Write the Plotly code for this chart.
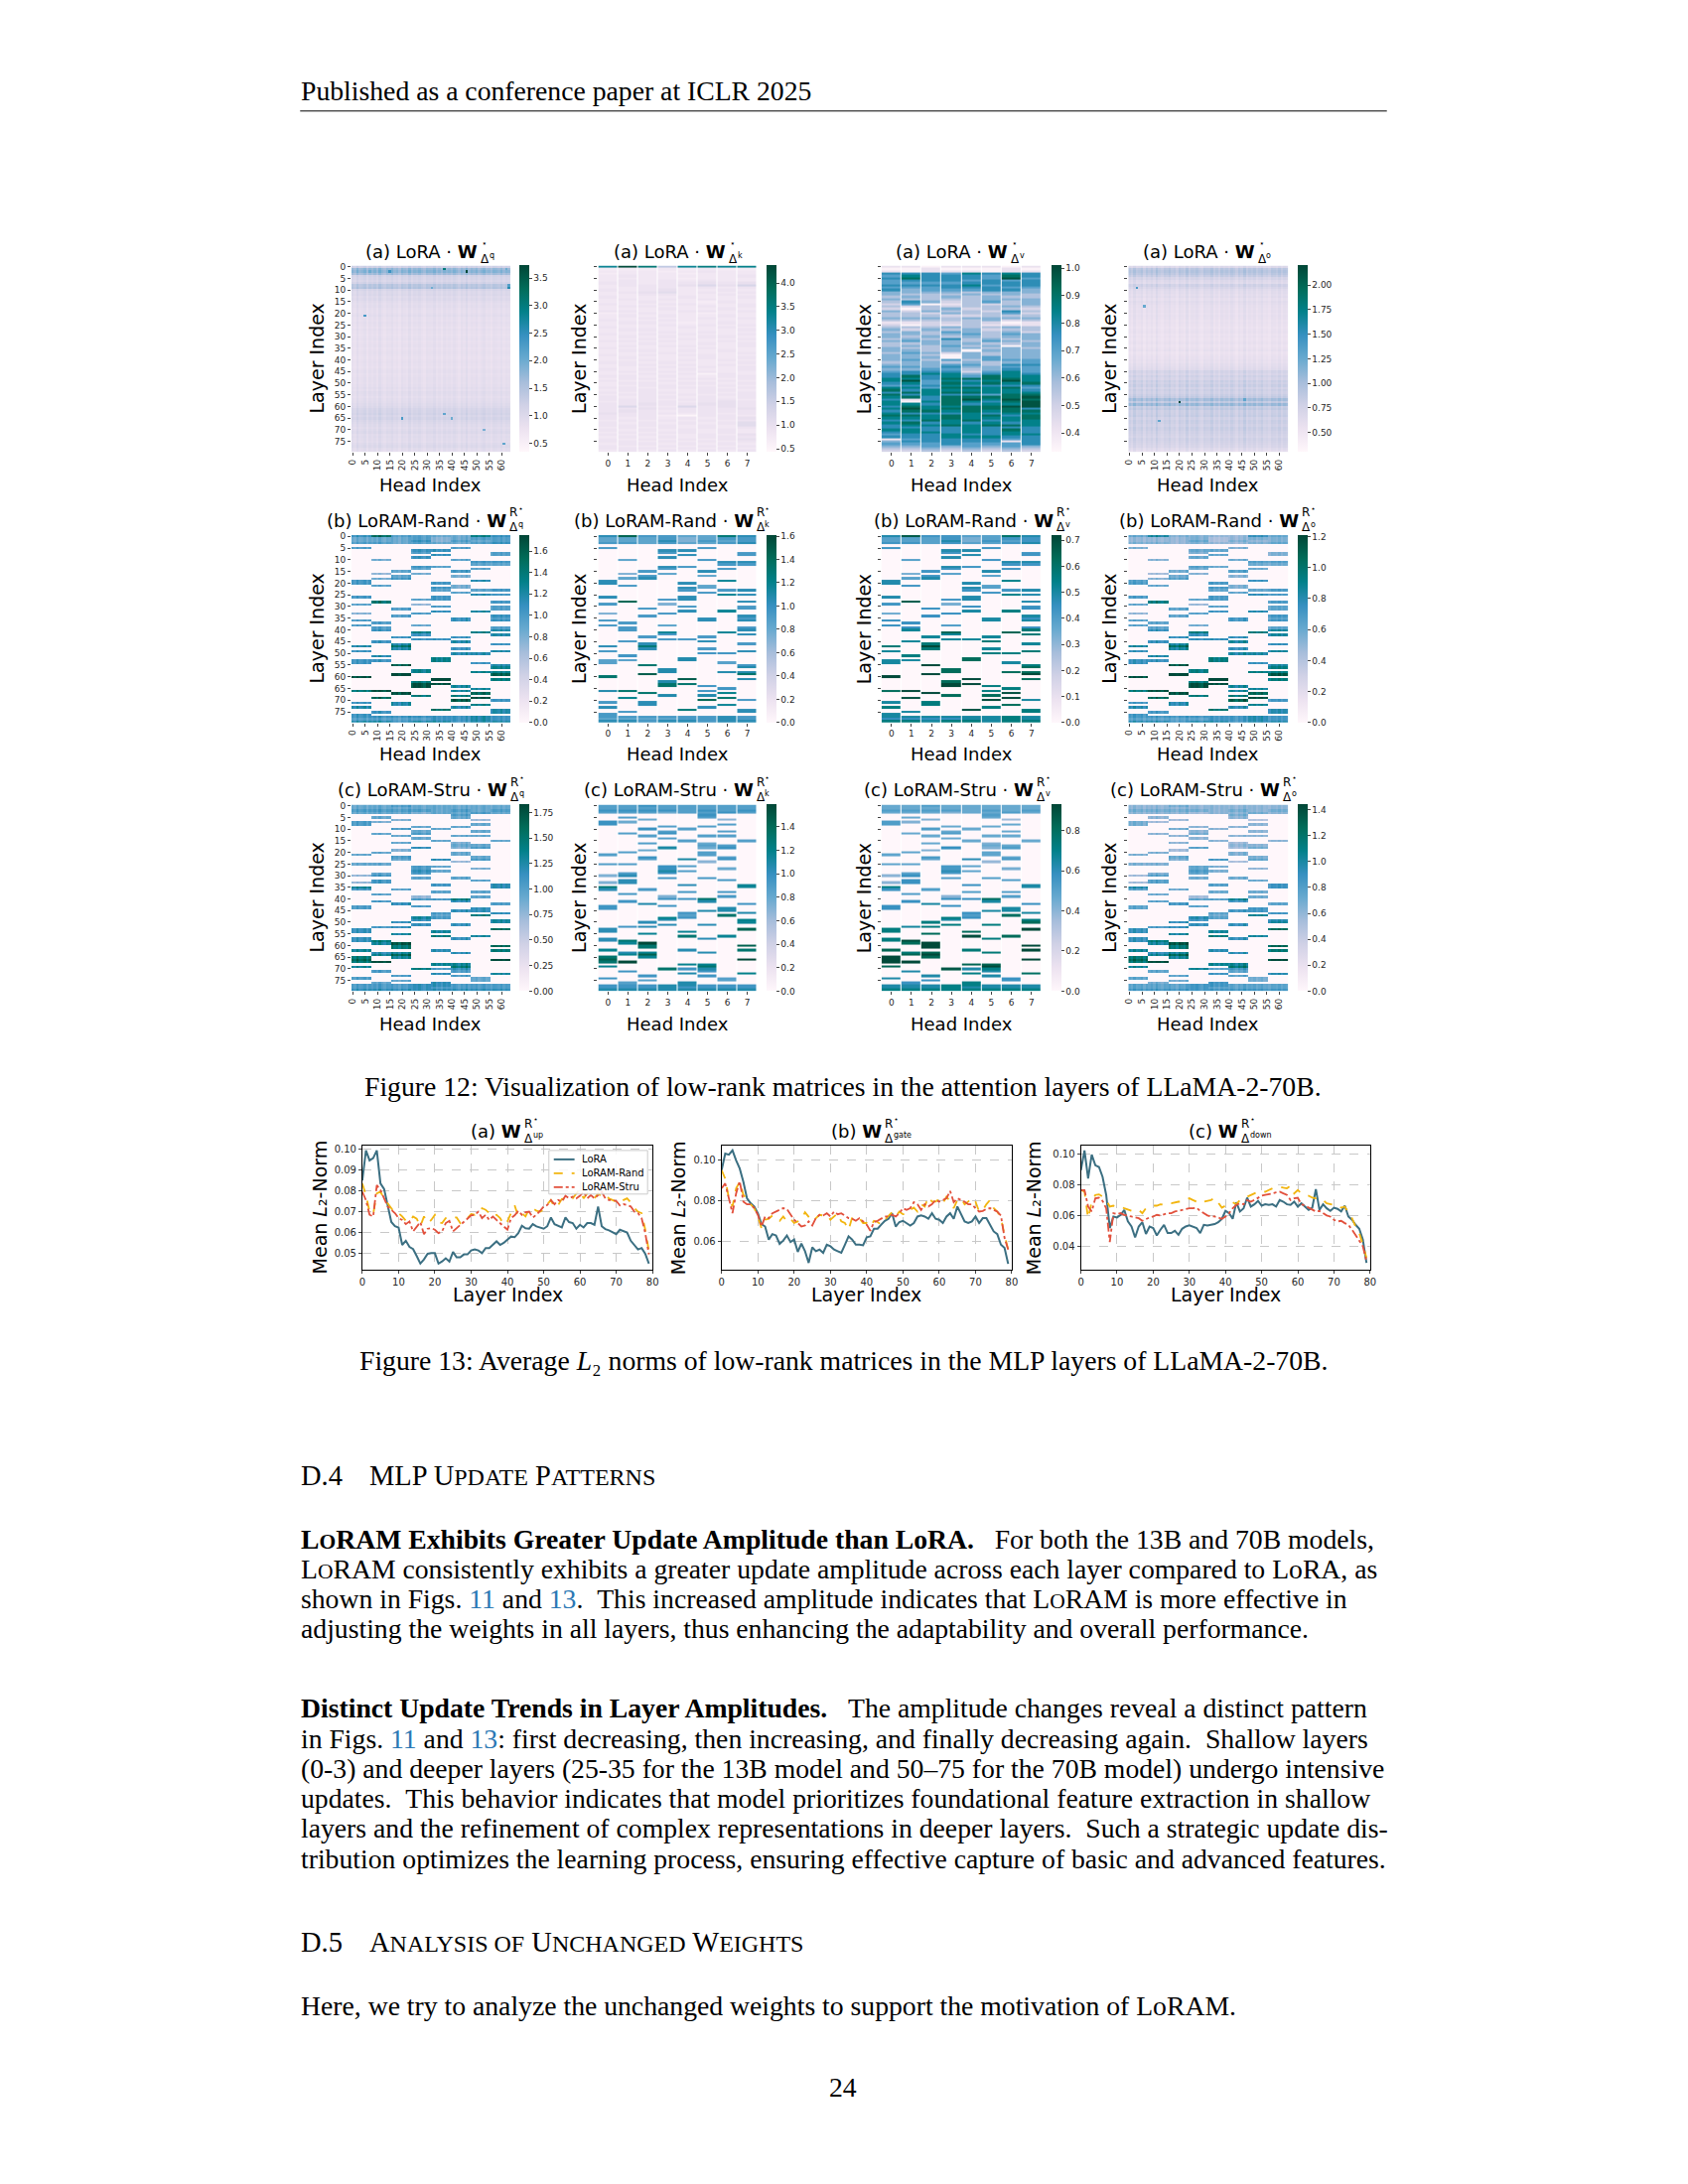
import plotly.graph_objects as go

# page geometry: the browser keeps its default 8px body margin
OFF = 8
W, H = 1700 - 2 * OFF, 2200 - 2 * OFF
SANS = "DejaVu Sans"
SERIF = "Liberation Serif"
LINK = "#2b78b4"


def fx(px):
    return (px - OFF) / W


def fy(py):
    return 1 - (py - OFF) / H


LAYERS = list(range(80))

# ---------------- Figure 12 data ----------------
# per-head multipliers for the 64-head (q / o) maps
HEAD_JIT = [1.02, 0.95, 1.08, 0.97, 1.0, 1.06, 0.93, 1.04, 0.98, 1.05, 0.96, 1.1, 0.99, 0.94, 1.03, 1.0,
            1.07, 0.97, 1.01, 0.92, 1.05, 1.0, 0.96, 1.09, 0.95, 1.03, 1.0, 1.06, 0.98, 0.93, 1.04, 1.01,
            1.0, 1.08, 0.96, 1.02, 0.94, 1.05, 0.99, 1.03, 0.97, 1.06, 1.0, 0.93, 1.04, 0.98, 1.1, 0.96,
            1.03, 0.99, 1.05, 0.95, 1.01, 1.07, 0.97, 1.0, 0.94, 1.04, 1.02, 0.98, 1.06, 0.96, 1.03, 1.0]

# (a) LoRA, q projection: row level and a few bright cells
Q_ROW = [1.2, 1.7, 1.8, 1.6, 1.15, 1.1, 1.05, 1.15, 1.4, 1.45,
         1.08, 1.0, 1.02, 0.95, 0.98, 0.92, 0.88, 0.9, 0.86, 0.84,
         0.86, 0.9, 0.84, 0.82, 0.86, 0.84, 0.8, 0.85, 0.82, 0.8,
         0.82, 0.84, 0.8, 0.82, 0.84, 0.8, 0.82, 0.84, 0.82, 0.8,
         0.82, 0.84, 0.82, 0.8, 0.84, 0.86, 0.82, 0.84, 0.86, 0.85,
         0.84, 0.86, 0.9, 0.86, 0.92, 0.9, 0.86, 0.9, 0.92, 0.96,
         1.0, 1.08, 1.1, 1.14, 1.06, 1.12, 1.04, 1.0, 0.96, 0.92,
         0.96, 1.0, 0.92, 0.94, 0.92, 0.9, 0.96, 1.0, 0.92, 0.88]
Q_SPOTS = [(2, 46, 3.7), (1, 37, 3.0), (2, 15, 2.4), (9, 63, 2.6), (21, 5, 2.3), (65, 20, 2.3),
           (63, 37, 2.1), (65, 40, 2.0), (76, 61, 2.1), (70, 53, 1.9), (1, 62, 2.0), (9, 32, 2.0),
           (8, 63, 2.2), (2, 7, 2.0)]

# (a) LoRA, o projection
O_ROW = [0.68, 0.88, 0.92, 0.88, 0.82, 0.72, 0.66, 0.64, 0.76, 0.7,
         0.64, 0.62, 0.6, 0.62, 0.58, 0.62, 0.6, 0.58, 0.57, 0.58,
         0.56, 0.58, 0.57, 0.55, 0.56, 0.55, 0.53, 0.55, 0.56, 0.53,
         0.55, 0.53, 0.55, 0.56, 0.53, 0.55, 0.57, 0.53, 0.55, 0.56,
         0.58, 0.57, 0.6, 0.62, 0.64, 0.74, 0.7, 0.76, 0.72, 0.79,
         0.76, 0.8, 0.74, 0.79, 0.76, 0.8, 0.84, 1.0, 0.85, 1.04,
         0.82, 0.85, 0.79, 0.8, 0.82, 0.76, 0.8, 0.79, 0.76, 0.8,
         0.79, 0.76, 0.74, 0.72, 0.76, 0.74, 0.72, 0.7, 0.64, 0.6]
O_SPOTS = [(58, 20, 2.2), (9, 3, 1.4), (17, 6, 1.25), (66, 12, 1.3), (57, 46, 1.3)]

# (a) LoRA, k projection: layer 0 then layers 1..79 as digits (0.5 + 0.1*d)
K_LORA_TOP = [3.3, 4.3, 3.6, 1.6, 3.3, 3.5, 3.3, 3.4]
K_LORA_ROWS = [
    "22232322", "33323433", "23332333", "34333334", "33332333", "34343433", "44344545", "34445758",
    "33443434", "43453343", "34563434", "33443343", "43334334", "34343433", "33433243", "43344334",
    "34433434", "33343343", "44334434", "23433233", "34343343", "33433434", "43343333", "34432343",
    "33343434", "43334343", "34433334", "33343433", "43434334", "34343443", "33434334", "44343343",
    "33433434", "34344334", "43333433", "34434343", "33343334", "43434433", "34333434", "33434343",
    "44343334", "34434343", "33343434", "43434334", "34343433", "33434143", "44343344", "34434434",
    "43343343", "34434434", "33443343", "44344434", "34433443", "43443434", "34434344", "43443434",
    "44434443", "34443454", "44544554", "47437454", "44544445", "45434444", "54443434", "44420443",
    "43434345", "34343434", "43434346", "44443436", "34343434", "43434343", "34344343", "43433435",
    "34343444", "43434345", "44343434", "34434343", "43343434", "44434343", "34343434"]

# (a) LoRA, v projection: layers 0..79 as digits (0.35 + 0.07*d)
V_LORA_ROWS = [
    "11011101", "00100010", "10111011", "66657676", "57666586", "68666595", "56665656", "55556666",
    "66667566", "55566655", "64555664", "44443444", "43334343", "34343433", "43333444", "36423534",
    "25013234", "32323343", "20342332", "42433263", "33243352", "33322333", "44434444", "33333423",
    "11223201", "20213111", "33343343", "42434233", "34354342", "44345354", "43434344", "34363434",
    "45443543", "33444334", "34353404", "43344343", "44340444", "35424344", "44304344", "44404544",
    "45353555", "34434345", "44455366", "55464455", "44553465", "56662575", "66774676", "68675877",
    "77688887", "79576797", "67587878", "56676666", "77588785", "86777776", "68788777", "86766588",
    "78688889", "61689798", "70787689", "77686779", "68778899", "79788886", "68878788", "76667677",
    "88787868", "77787778", "66878677", "78676767", "67787887", "66667666", "77667686", "67767676",
    "56676677", "66677766", "15666656", "46666616", "55565556", "44545454", "33434343", "22323232"]

# kept KV groups per layer (group -> {layer: strength 1..9}); all other middle cells are pruned
RAND_KEPT = [
    {5: 5, 19: 6, 20: 6, 26: 6, 29: 5, 33: 3, 36: 5, 38: 5, 47: 6, 49: 5, 53: 4, 54: 4, 60: 8, 66: 6, 71: 5, 73: 6, 76: 5},
    {10: 4, 16: 3, 18: 4, 21: 5, 28: 9, 37: 5, 39: 5, 40: 5, 45: 5, 51: 5, 53: 4, 66: 8, 69: 7, 75: 5},
    {15: 5, 17: 5, 18: 6, 31: 5, 34: 5, 43: 5, 46: 6, 47: 8, 48: 6, 55: 8, 59: 9, 67: 8, 71: 6, 72: 6},
    {6: 6, 7: 5, 9: 6, 13: 6, 14: 5, 16: 4, 27: 5, 29: 3, 33: 5, 38: 4, 41: 7, 42: 5, 44: 5, 57: 6, 58: 6, 62: 6, 63: 8, 64: 8, 68: 6},
    {6: 6, 8: 6, 13: 5, 20: 6, 22: 6, 23: 5, 26: 6, 27: 6, 30: 5, 32: 6, 44: 5, 52: 6, 53: 6, 61: 9, 63: 8, 74: 8},
    {5: 5, 10: 5, 15: 6, 17: 4, 21: 4, 22: 4, 24: 5, 35: 6, 36: 6, 43: 5, 45: 6, 48: 5, 50: 5, 64: 5, 66: 5, 68: 6, 70: 9, 73: 6},
    {11: 6, 12: 5, 14: 5, 19: 7, 23: 5, 25: 7, 32: 7, 41: 7, 50: 5, 54: 4, 58: 6, 65: 5, 67: 7, 69: 8, 72: 7},
    {7: 5, 8: 5, 11: 6, 12: 5, 23: 6, 25: 6, 28: 6, 30: 5, 31: 5, 34: 6, 35: 5, 36: 6, 39: 5, 40: 6, 42: 6, 46: 5,
     49: 6, 55: 5, 56: 6, 58: 6, 59: 8, 61: 6, 70: 5, 74: 6, 75: 6},
]
RAND_EDGE = {0: "69554486", 1: "44453455", 2: "44463545", 3: "55454456",
             77: "55555565", 78: "44445565", 79: "66566566"}

STRU_KEPT = [
    {7: 6, 8: 6, 21: 5, 25: 5, 30: 3, 33: 3, 35: 8, 36: 6, 43: 5, 44: 5, 53: 5, 54: 5, 57: 5, 58: 5, 62: 6, 65: 7, 66: 8, 67: 7, 69: 6, 74: 5},
    {5: 5, 7: 4, 12: 5, 20: 5, 25: 5, 29: 5, 30: 6, 32: 6, 33: 6, 38: 5, 41: 5, 52: 4, 58: 7, 59: 6, 63: 5, 64: 6, 67: 9, 71: 5, 76: 4},
    {6: 4, 10: 6, 13: 5, 16: 5, 19: 4, 22: 6, 23: 5, 36: 5, 42: 6, 50: 5, 52: 5, 55: 6, 59: 9, 60: 7, 61: 7, 63: 6, 64: 8, 65: 6, 73: 5, 75: 4},
    {9: 5, 11: 5, 12: 6, 14: 5, 18: 7, 26: 6, 27: 6, 28: 7, 29: 6, 31: 5, 39: 3, 40: 5, 43: 5, 48: 7, 49: 6, 51: 5, 70: 8},
    {10: 5, 15: 5, 23: 7, 26: 5, 28: 5, 34: 6, 37: 5, 40: 5, 46: 5, 47: 4, 48: 5, 54: 6, 56: 7, 62: 5, 68: 6, 70: 5, 72: 6, 76: 6},
    {4: 6, 5: 5, 9: 5, 13: 5, 16: 4, 17: 5, 18: 4, 20: 5, 21: 5, 24: 3, 31: 5, 40: 8, 41: 6, 45: 6, 51: 5, 57: 5, 63: 5,
     68: 6, 69: 7, 70: 6, 71: 5, 73: 5},
    {6: 3, 8: 5, 11: 5, 13: 5, 17: 5, 18: 6, 22: 5, 23: 6, 27: 4, 32: 5, 37: 5, 39: 5, 44: 6, 45: 6, 47: 8, 56: 6, 74: 4, 75: 4},
    {15: 5, 34: 7, 35: 7, 42: 5, 46: 6, 49: 7, 50: 6, 53: 8, 60: 8, 62: 7, 66: 9, 72: 7},
]
STRU_EDGE = {0: "55655555", 1: "55555555", 2: "66665656", 3: "55545565",
             77: "55566555", 78: "55565555", 79: "66666666"}

LEVEL_SCALE = [0, 0.55, 0.65, 0.78, 0.9, 1.0, 1.12, 1.25, 1.38, 1.55]

# colour level (share of colour range) of a strength-5 cell, per block of 10 layers
BAND = {
    (1, 0): [0.55, 0.52, 0.52, 0.55, 0.6, 0.66, 0.7, 0.6],
    (1, 1): [0.58, 0.58, 0.58, 0.58, 0.58, 0.6, 0.6, 0.58],
    (1, 2): [0.6, 0.6, 0.6, 0.62, 0.72, 0.78, 0.78, 0.7],
    (1, 3): [0.45, 0.48, 0.5, 0.52, 0.62, 0.68, 0.7, 0.58],
    (2, 0): [0.5, 0.5, 0.5, 0.52, 0.56, 0.62, 0.64, 0.56],
    (2, 1): [0.55, 0.55, 0.55, 0.58, 0.6, 0.65, 0.66, 0.6],
    (2, 2): [0.5, 0.5, 0.52, 0.55, 0.62, 0.78, 0.8, 0.68],
    (2, 3): [0.42, 0.42, 0.45, 0.48, 0.52, 0.62, 0.64, 0.52],
}

Z_RANGE = {(0, 0): (0.34, 3.73), (0, 1): (0.43, 4.37), (0, 2): (0.33, 1.01), (0, 3): (0.30, 2.2),
           (1, 0): (0, 1.75), (1, 1): (0, 1.61), (1, 2): (0, 0.72), (1, 3): (0, 1.21),
           (2, 0): (0, 1.83), (2, 1): (0, 1.59), (2, 2): (0, 0.93), (2, 3): (0, 1.44)}

CB_TICKS = {(0, 0): ([0.5, 1.0, 1.5, 2.0, 2.5, 3.0, 3.5], 1),
            (0, 1): ([0.5, 1.0, 1.5, 2.0, 2.5, 3.0, 3.5, 4.0], 1),
            (0, 2): ([0.4, 0.5, 0.6, 0.7, 0.8, 0.9, 1.0], 1),
            (0, 3): ([0.5, 0.75, 1.0, 1.25, 1.5, 1.75, 2.0], 2),
            (1, 0): ([0, 0.2, 0.4, 0.6, 0.8, 1.0, 1.2, 1.4, 1.6], 1),
            (1, 1): ([0, 0.2, 0.4, 0.6, 0.8, 1.0, 1.2, 1.4, 1.6], 1),
            (1, 2): ([0, 0.1, 0.2, 0.3, 0.4, 0.5, 0.6, 0.7], 1),
            (1, 3): ([0, 0.2, 0.4, 0.6, 0.8, 1.0, 1.2], 1),
            (2, 0): ([0, 0.25, 0.5, 0.75, 1.0, 1.25, 1.5, 1.75], 2),
            (2, 1): ([0, 0.2, 0.4, 0.6, 0.8, 1.0, 1.2, 1.4], 1),
            (2, 2): ([0, 0.2, 0.4, 0.6, 0.8], 1),
            (2, 3): ([0, 0.2, 0.4, 0.6, 0.8, 1.0, 1.2, 1.4], 1)}

ROW_NAMES = ["(a) LoRA", "(b) LoRAM-Rand", "(c) LoRAM-Stru"]
PROJ = ["q", "k", "v", "o"]

# ---------------- Figure 13 data ----------------
UP_LORA = [0.085, 0.0995, 0.0947, 0.0958, 0.0995, 0.0836, 0.081, 0.073, 0.065, 0.063,
           0.0624, 0.054, 0.056, 0.053, 0.052, 0.0486, 0.045, 0.047, 0.0497, 0.050,
           0.050, 0.045, 0.046, 0.0475, 0.046, 0.0506, 0.048, 0.048, 0.0494, 0.0494,
           0.0513, 0.0518, 0.0513, 0.050, 0.0525, 0.0525, 0.054, 0.0557, 0.054, 0.055,
           0.0565, 0.058, 0.0577, 0.0597, 0.0632, 0.062, 0.0618, 0.064, 0.0629, 0.0624,
           0.0618, 0.063, 0.0672, 0.064, 0.063, 0.0624, 0.0672, 0.065, 0.0645, 0.0618,
           0.0637, 0.0624, 0.0645, 0.0645, 0.0637, 0.0725, 0.063, 0.0616, 0.061, 0.060,
           0.0592, 0.0613, 0.0608, 0.060, 0.056, 0.054, 0.0518, 0.0525, 0.0497, 0.045]
UP_RAND = [0.0836, 0.078, 0.070, 0.0688, 0.0788, 0.0796, 0.0764, 0.074, 0.0717, 0.0693,
           0.0693, 0.0677, 0.0656, 0.065, 0.0677, 0.0666, 0.063, 0.0677, 0.0645, 0.066,
           0.0685, 0.065, 0.0645, 0.0669, 0.0677, 0.0672, 0.0672, 0.0645, 0.0666, 0.0669,
           0.0688, 0.0685, 0.0693, 0.0717, 0.0709, 0.0693, 0.0677, 0.0685, 0.0669, 0.0637,
           0.0653, 0.0693, 0.073, 0.0677, 0.0693, 0.0677, 0.0713, 0.0717, 0.0704, 0.070,
           0.0709, 0.0736, 0.0756, 0.072, 0.0732, 0.0761, 0.0764, 0.0772, 0.0764, 0.0788,
           0.0804, 0.0764, 0.0788, 0.078, 0.0764, 0.0788, 0.0772, 0.078, 0.0764, 0.0756,
           0.0748, 0.074, 0.0756, 0.0764, 0.0745, 0.0717, 0.070, 0.0693, 0.0613, 0.051]
UP_STRU = [0.0796, 0.0756, 0.0685, 0.0677, 0.0828, 0.0804, 0.0764, 0.0725, 0.0709, 0.0693,
           0.0669, 0.066, 0.064, 0.0653, 0.0605, 0.063, 0.065, 0.0592, 0.0618, 0.0621,
           0.0613, 0.0597, 0.0605, 0.0645, 0.0656, 0.0605, 0.0621, 0.0637, 0.0653, 0.0666,
           0.0682, 0.0685, 0.070, 0.0669, 0.0685, 0.066, 0.0677, 0.066, 0.0645, 0.063,
           0.0613, 0.0669, 0.0682, 0.0704, 0.0685, 0.0697, 0.070, 0.0672, 0.0685, 0.0704,
           0.0725, 0.0732, 0.0756, 0.0736, 0.0756, 0.0748, 0.0777, 0.0764, 0.0772, 0.0764,
           0.0777, 0.0796, 0.0764, 0.078, 0.0764, 0.078, 0.0796, 0.0764, 0.0756, 0.0756,
           0.0752, 0.073, 0.0736, 0.0732, 0.0725, 0.070, 0.0693, 0.0669, 0.0597, 0.0494]

GATE_LORA = [0.095, 0.1031, 0.1026, 0.1047, 0.0998, 0.0958, 0.0893, 0.0812, 0.0788, 0.0772,
             0.0739, 0.0686, 0.0674, 0.061, 0.0637, 0.063, 0.0589, 0.0605, 0.063, 0.0598,
             0.061, 0.055, 0.059, 0.0553, 0.0496, 0.0572, 0.0553, 0.0561, 0.0545, 0.0585,
             0.0577, 0.0561, 0.0553, 0.0545, 0.0585, 0.0626, 0.061, 0.0585, 0.0585, 0.0582,
             0.0621, 0.0626, 0.0663, 0.0663, 0.0683, 0.0702, 0.0712, 0.0739, 0.0674, 0.0696,
             0.0702, 0.0691, 0.0679, 0.0691, 0.0723, 0.0728, 0.0723, 0.0712, 0.0739, 0.0712,
             0.0707, 0.0691, 0.0723, 0.0739, 0.0712, 0.0772, 0.0739, 0.0699, 0.0691, 0.0699,
             0.0723, 0.0691, 0.0715, 0.0715, 0.0683, 0.065, 0.0637, 0.0585, 0.0569, 0.0491]
GATE_RAND = [0.095, 0.0909, 0.0812, 0.0772, 0.0861, 0.0893, 0.0828, 0.0812, 0.0783, 0.0764,
             0.0723, 0.0666, 0.0707, 0.0712, 0.0728, 0.0715, 0.0702, 0.0723, 0.0699, 0.0712,
             0.0691, 0.0699, 0.0707, 0.0744, 0.0723, 0.0699, 0.0715, 0.0731, 0.0728, 0.0731,
             0.0707, 0.0723, 0.0739, 0.0699, 0.0691, 0.0658, 0.0718, 0.0712, 0.0715, 0.0691,
             0.0691, 0.0674, 0.0702, 0.0696, 0.0683, 0.0707, 0.0728, 0.0744, 0.0723, 0.0747,
             0.0734, 0.0734, 0.0755, 0.0767, 0.0747, 0.0783, 0.0772, 0.082, 0.0796, 0.0796,
             0.0809, 0.0788, 0.082, 0.0796, 0.0764, 0.0804, 0.0812, 0.0783, 0.0796, 0.0815,
             0.0796, 0.0747, 0.0755, 0.0783, 0.0804, 0.0764, 0.0747, 0.0715, 0.0634, 0.0561]
GATE_STRU = [0.0861, 0.0885, 0.0812, 0.0739, 0.0836, 0.0896, 0.0796, 0.0783, 0.0783, 0.0764,
             0.0731, 0.0674, 0.0723, 0.0715, 0.0739, 0.0747, 0.0755, 0.0764, 0.076, 0.0734,
             0.0707, 0.0691, 0.0674, 0.0679, 0.0699, 0.0679, 0.0715, 0.0731, 0.0728, 0.0739,
             0.0723, 0.0747, 0.0734, 0.0739, 0.0728, 0.0715, 0.0712, 0.0702, 0.0715, 0.0699,
             0.0683, 0.0653, 0.0696, 0.0702, 0.0712, 0.0723, 0.0723, 0.0731, 0.0723, 0.0739,
             0.0764, 0.0755, 0.0764, 0.0793, 0.0783, 0.0755, 0.0783, 0.0772, 0.0783, 0.0804,
             0.0796, 0.0804, 0.0812, 0.0848, 0.0793, 0.0812, 0.0804, 0.0796, 0.0783, 0.0783,
             0.0764, 0.0747, 0.075, 0.076, 0.0764, 0.0755, 0.0747, 0.0728, 0.0618, 0.0561]

DOWN_LORA = [0.0896, 0.1026, 0.0842, 0.0998, 0.0929, 0.0918, 0.0853, 0.0735, 0.0519, 0.0594,
             0.0588, 0.0605, 0.0637, 0.0562, 0.0529, 0.0458, 0.0529, 0.0557, 0.048, 0.0529,
             0.0519, 0.0471, 0.0508, 0.054, 0.0486, 0.0486, 0.0501, 0.0475, 0.0514, 0.0529,
             0.0536, 0.0529, 0.0519, 0.0486, 0.054, 0.0536, 0.054, 0.0545, 0.0557, 0.0579,
             0.0631, 0.0616, 0.0579, 0.0687, 0.0627, 0.0648, 0.0717, 0.0659, 0.0674, 0.0696,
             0.0665, 0.0674, 0.067, 0.0674, 0.0659, 0.0702, 0.0691, 0.0674, 0.067, 0.0691,
             0.0659, 0.068, 0.0659, 0.0637, 0.0652, 0.0773, 0.0637, 0.0674, 0.0648, 0.0631,
             0.0652, 0.0644, 0.0627, 0.0665, 0.0594, 0.0573, 0.054, 0.0514, 0.0443, 0.0292]
DOWN_RAND = [0.0767, 0.0756, 0.0583, 0.0691, 0.0735, 0.0739, 0.0724, 0.0702, 0.0659, 0.0665,
             0.0659, 0.0659, 0.0648, 0.0637, 0.0631, 0.0631, 0.0637, 0.0616, 0.0648, 0.0659,
             0.0665, 0.0665, 0.0674, 0.067, 0.068, 0.068, 0.0687, 0.0691, 0.0691, 0.0702,
             0.0713, 0.0702, 0.0691, 0.068, 0.0691, 0.0696, 0.0702, 0.0717, 0.068, 0.0652,
             0.0665, 0.068, 0.0687, 0.0674, 0.0702, 0.0713, 0.0724, 0.0735, 0.0745, 0.0756,
             0.076, 0.0756, 0.0767, 0.0778, 0.0782, 0.0788, 0.0782, 0.0778, 0.0795, 0.0745,
             0.0767, 0.0745, 0.0735, 0.073, 0.0717, 0.0713, 0.0717, 0.0702, 0.068, 0.0674,
             0.067, 0.067, 0.0652, 0.0659, 0.0616, 0.0583, 0.0529, 0.0486, 0.0411, 0.0324]
DOWN_STRU = [0.0767, 0.0767, 0.0659, 0.0627, 0.0713, 0.0717, 0.0696, 0.0648, 0.0428, 0.0616,
             0.0609, 0.0616, 0.0605, 0.0601, 0.0594, 0.0588, 0.0583, 0.0566, 0.0579, 0.0588,
             0.0594, 0.0605, 0.0601, 0.0609, 0.0616, 0.0616, 0.0627, 0.0631, 0.0637, 0.0644,
             0.0648, 0.0648, 0.0652, 0.0631, 0.0616, 0.0601, 0.0594, 0.0594, 0.0588, 0.0579,
             0.0594, 0.0616, 0.0648, 0.067, 0.068, 0.0674, 0.0702, 0.0691, 0.0702, 0.0717,
             0.073, 0.0735, 0.0739, 0.0745, 0.0752, 0.0756, 0.0745, 0.0735, 0.0702, 0.0713,
             0.0717, 0.0674, 0.0665, 0.0652, 0.0637, 0.0627, 0.0631, 0.0616, 0.0601, 0.0594,
             0.0573, 0.0562, 0.0566, 0.0551, 0.054, 0.0508, 0.0471, 0.0443, 0.040, 0.0303]

MLP_PANELS = [
    ("(a)", "up", UP_LORA, UP_RAND, UP_STRU, [0.0422, 0.1019], [0.05, 0.06, 0.07, 0.08, 0.09, 0.10]),
    ("(b)", "gate", GATE_LORA, GATE_RAND, GATE_STRU, [0.0464, 0.1071], [0.06, 0.08, 0.10]),
    ("(c)", "down", DOWN_LORA, DOWN_RAND, DOWN_STRU, [0.0249, 0.1058], [0.04, 0.06, 0.08, 0.10]),
]
SERIES = ["LoRA", "LoRAM-Rand", "LoRAM-Stru"]


# ---------------- helpers ----------------
def wide_from_rows(row_vals, spots):
    z = [[row_vals[l] * HEAD_JIT[h] for h in range(64)] for l in LAYERS]
    for l, h, v in spots:
        z[l][h] = v
    return z


def levels(kept, edge):
    lv = [[0] * 8 for _ in LAYERS]
    for g, d in enumerate(kept):
        for l, s in d.items():
            lv[l][g] = s
    for l, s in edge.items():
        lv[l] = [int(c) for c in s]
    return lv


def pruned_map(lv, band, zmax, wide):
    z = []
    for l in LAYERS:
        row = []
        for h in range(64 if wide else 8):
            s = lv[l][h // 8] if wide else lv[l][h]
            f = band[l // 10] * LEVEL_SCALE[s]
            if wide:
                f *= HEAD_JIT[h]
            row.append(min(f, 0.99) * zmax)
        z.append(row)
    return z


def ann(px, py, text, size, family=SANS, xanchor="center", yanchor="middle", angle=0, color="black"):
    return dict(x=fx(px), y=fy(py), xref="paper", yref="paper", text=text, showarrow=False,
                font=dict(size=size, family=family, color=color), xanchor=xanchor, yanchor=yanchor,
                textangle=angle, borderpad=0)


def ax_name(kind, n):
    return kind + ("" if n == 1 else str(n))


def w_label(we, ty, sub, with_r):
    # stacked super/subscripts after a bold W whose right edge sits at x=we
    out = []
    if with_r:
        out.append(ann(we + 1, ty - 8, "R", 12, xanchor="left"))
        out.append(ann(we + 10, ty - 12, "⋆", 8, xanchor="left"))
    else:
        out.append(ann(we + 2, ty - 9, "⋆", 9, xanchor="left"))
    out.append(ann(we + 1, ty + 7, "Δ", 12, xanchor="left"))
    out.append(ann(we + 10, ty + 4, sub, 8, xanchor="left"))
    return out


# ---------------- build heatmaps ----------------
Z = {}
Z[(0, 0)] = wide_from_rows(Q_ROW, Q_SPOTS)
Z[(0, 1)] = [K_LORA_TOP] + [[0.5 + 0.1 * int(c) for c in s] for s in K_LORA_ROWS]
Z[(0, 2)] = [[0.35 + 0.07 * int(c) for c in s] for s in V_LORA_ROWS]
Z[(0, 3)] = wide_from_rows(O_ROW, O_SPOTS)
for r, (kept, edge) in ((1, (RAND_KEPT, RAND_EDGE)), (2, (STRU_KEPT, STRU_EDGE))):
    lv = levels(kept, edge)
    for c in range(4):
        Z[(r, c)] = pruned_map(lv, BAND[(r, c)], Z_RANGE[(r, c)][1], c in (0, 3))

HM_X = [(352, 513), (602, 763), (889, 1051), (1139, 1301)]
HM_Y = [(264, 452), (536, 725), (808, 996)]
CB_X = [522, 773, 1061, 1311]
TITLE_Y = [250, 521, 793]
W_END = [[481, 732, 1018, 1268], [510, 760, 1064, 1313], [511, 760, 1044, 1294]]
YLAB_X = [317, 583, 871, 1120]
XLAB_Y = [485, 757, 1029]

fig = go.Figure()
layout = {}
annotations = []
shapes = []

for r in range(3):
    for c in range(4):
        n = r * 4 + c + 1
        wide = c in (0, 3)
        nh = 64 if wide else 8
        x0, x1 = HM_X[c]
        y0, y1 = HM_Y[r]
        zmin, zmax = Z_RANGE[(r, c)]
        tv, dec = CB_TICKS[(r, c)]
        fig.add_trace(go.Heatmap(
            z=Z[(r, c)], x=list(range(nh)), y=LAYERS, zmin=zmin, zmax=zmax,
            colorscale="PuBuGn", xgap=0 if wide else 1,
            xaxis=ax_name("x", n), yaxis=ax_name("y", n), hoverinfo="skip",
            colorbar=dict(x=fx(CB_X[c]), xanchor="left", y=fy((y0 + y1) / 2), yanchor="middle",
                          len=(y1 - y0) / H, lenmode="fraction", thickness=10, thicknessmode="pixels",
                          outlinewidth=0, xpad=0, ypad=0, ticks="outside", ticklen=3, tickwidth=0.8,
                          tickvals=tv, ticktext=[f"{v:.{dec}f}" for v in tv],
                          tickfont=dict(size=9, family=SANS, color="#262626")),
        ))
        xt = list(range(0, 64, 5)) if wide else list(range(8))
        layout[ax_name("xaxis", n)] = dict(
            domain=[fx(x0), fx(x1)], anchor=ax_name("y", n), range=[-0.5, nh - 0.5],
            tickmode="array", tickvals=xt, ticktext=[str(v) for v in xt], tickangle=-90 if wide else 0,
            ticks="outside", ticklen=3, tickwidth=0.8, tickfont=dict(size=9, family=SANS, color="#262626"),
            showgrid=False, zeroline=False, showline=False, fixedrange=True)
        yt = list(range(0, 80, 5))
        layout[ax_name("yaxis", n)] = dict(
            domain=[fy(y1), fy(y0)], anchor=ax_name("x", n), range=[79.5, -0.5],
            tickmode="array", tickvals=yt, ticktext=[str(v) for v in yt], showticklabels=(c == 0),
            ticks="outside", ticklen=3, tickwidth=0.8, tickfont=dict(size=9, family=SANS, color="#262626"),
            showgrid=False, zeroline=False, showline=False, fixedrange=True)

        we = W_END[r][c]
        ty = TITLE_Y[r]
        annotations.append(ann(we, ty, f"{ROW_NAMES[r]} · <b>W</b>", 18, xanchor="right"))
        annotations.extend(w_label(we, ty, PROJ[c], r > 0))
        annotations.append(ann(YLAB_X[c], (y0 + y1) / 2, "Layer Index", 19, angle=-90))
        annotations.append(ann((x0 + x1) / 2, XLAB_Y[r], "Head Index", 18))

# ---------------- line charts ----------------
LC_X = [(363, 657), (727, 1021), (1091, 1384)]
LC_Y = (1152, 1277)
LC_W_END = [525, 890, 1251]
LC_YLAB_X = [320, 683, 1043]
COLORS = ["#3b6f82", "#f2b50f", "#e2503c"]
DASHES = ["solid", "dash", "dashdot"]
WIDTHS = [2.0, 1.8, 1.8]

for i, (tag, sub, lora, rand, stru, yr, ytv) in enumerate(MLP_PANELS):
    n = 13 + i
    for j, ys in enumerate((lora, rand, stru)):
        fig.add_trace(go.Scatter(
            x=LAYERS, y=ys, mode="lines", name=SERIES[j], showlegend=False,
            line=dict(color=COLORS[j], dash=DASHES[j], width=WIDTHS[j]),
            xaxis=ax_name("x", n), yaxis=ax_name("y", n), hoverinfo="skip"))
    x0, x1 = LC_X[i]
    layout[ax_name("xaxis", n)] = dict(
        domain=[fx(x0), fx(x1)], anchor=ax_name("y", n), range=[0, 80],
        tickmode="array", tickvals=list(range(0, 90, 10)), ticks="outside", ticklen=3,
        tickfont=dict(size=10, family=SANS, color="#262626"),
        showgrid=True, gridcolor="#c8c8c8", griddash="dash", gridwidth=0.8,
        showline=True, mirror=True, linecolor="black", linewidth=1, zeroline=False)
    layout[ax_name("yaxis", n)] = dict(
        domain=[fy(LC_Y[1]), fy(LC_Y[0])], anchor=ax_name("x", n), range=yr,
        tickmode="array", tickvals=ytv, ticktext=[f"{v:.2f}" for v in ytv], ticks="outside", ticklen=3,
        tickfont=dict(size=10, family=SANS, color="#262626"),
        showgrid=True, gridcolor="#c8c8c8", griddash="dash", gridwidth=0.8,
        showline=True, mirror=True, linecolor="black", linewidth=1, zeroline=False)
    we = LC_W_END[i]
    annotations.append(ann(we, 1138, f"{tag} <b>W</b>", 18, xanchor="right"))
    annotations.extend(w_label(we, 1138, sub, True))
    annotations.append(ann(LC_YLAB_X[i], (LC_Y[0] + LC_Y[1]) / 2, "Mean <i>L</i>₂-Norm", 19, angle=-90))
    annotations.append(ann((x0 + x1) / 2, 1302, "Layer Index", 19))

# hand-drawn legend box inside panel (a)
shapes.append(dict(type="rect", xref="paper", yref="paper", x0=fx(552), x1=fx(652), y0=fy(1201), y1=fy(1157),
                   line=dict(color="#cccccc", width=1), fillcolor="rgba(255,255,255,0.85)", layer="above"))
for j, name in enumerate(SERIES):
    ly = 1166 + 14 * j
    shapes.append(dict(type="line", xref="paper", yref="paper", x0=fx(557), x1=fx(578), y0=fy(ly), y1=fy(ly),
                       line=dict(color=COLORS[j], dash=DASHES[j], width=WIDTHS[j]), layer="above"))
    annotations.append(ann(584, ly, name, 10, xanchor="left"))

# ---------------- page text ----------------
BODY = 27.7
HEAD = 28.5
SMALL = 21.5
HEAD_SMALL = 24


def sc(s, size=SMALL):
    return f"<span style='font-size:{size}px'>{s}</span>"


def link(s):
    return f"<span style='color:{LINK}'>{s}</span>"


LORAM = "L" + sc("O") + "RAM"
NB = "\u00a0"

shapes.append(dict(type="line", xref="paper", yref="paper", x0=fx(300), x1=fx(1401), y0=fy(108), y1=fy(108),
                   line=dict(color="black", width=1)))
annotations.append(ann(300, 88, "Published as a conference paper at ICLR 2025", BODY, SERIF, xanchor="left"))
annotations.append(ann(850, 1092, "Figure 12: Visualization of low-rank matrices in the attention layers of LLaMA-2-70B.",
                       BODY, SERIF))
annotations.append(ann(850, 1369, "Figure 13: Average <i>L</i>₂ norms of low-rank matrices in the MLP layers of LLaMA-2-70B.",
                       BODY, SERIF))

annotations.append(ann(300, 1485, "D.4", HEAD, SERIF, xanchor="left"))
annotations.append(ann(369, 1485, "MLP U" + sc("PDATE", HEAD_SMALL) + " P" + sc("ATTERNS", HEAD_SMALL),
                       HEAD, SERIF, xanchor="left"))

PARA1 = [
    "<b>" + LORAM + " Exhibits Greater Update Amplitude than LoRA.</b>" + NB * 3 + "For both the 13B and 70B models,",
    LORAM + " consistently exhibits a greater update amplitude across each layer compared to LoRA, as",
    "shown in Figs. " + link("11") + " and " + link("13") + "." + NB * 2 + "This increased amplitude indicates that "
    + LORAM + " is more effective in",
    "adjusting the weights in all layers, thus enhancing the adaptability and overall performance.",
]
PARA2 = [
    "<b>Distinct Update Trends in Layer Amplitudes.</b>" + NB * 3 + "The amplitude changes reveal a distinct pattern",
    "in Figs. " + link("11") + " and " + link("13") + ": first decreasing, then increasing, and finally decreasing again."
    + NB * 2 + "Shallow layers",
    "(0-3) and deeper layers (25-35 for the 13B model and 50–75 for the 70B model) undergo intensive",
    "updates." + NB * 2 + "This behavior indicates that model prioritizes foundational feature extraction in shallow",
    "layers and the refinement of complex representations in deeper layers." + NB * 2 + "Such a strategic update dis-",
    "tribution optimizes the learning process, ensuring effective capture of basic and advanced features.",
]
for k, line in enumerate(PARA1):
    annotations.append(ann(300, 1549 + 30.3 * k, line, BODY, SERIF, xanchor="left"))
for k, line in enumerate(PARA2):
    annotations.append(ann(300, 1720 + 30.3 * k, line, BODY, SERIF, xanchor="left"))

annotations.append(ann(300, 1956, "D.5", HEAD, SERIF, xanchor="left"))
annotations.append(ann(369, 1956, "A" + sc("NALYSIS OF", HEAD_SMALL) + " U" + sc("NCHANGED", HEAD_SMALL)
                       + " W" + sc("EIGHTS", HEAD_SMALL), HEAD, SERIF, xanchor="left"))
annotations.append(ann(300, 2020, "Here, we try to analyze the unchanged weights to support the motivation of LoRAM.",
                       BODY, SERIF, xanchor="left"))
annotations.append(ann(850, 2102, "24", BODY, SERIF))

fig.update_layout(
    width=W, height=H, margin=dict(l=0, r=0, t=0, b=0, pad=0),
    paper_bgcolor="white", plot_bgcolor="white",
    font=dict(family=SANS, color="black"),
    annotations=annotations,
    shapes=shapes,
    showlegend=False,
    **layout,
)

fig.write_html("out.html")
